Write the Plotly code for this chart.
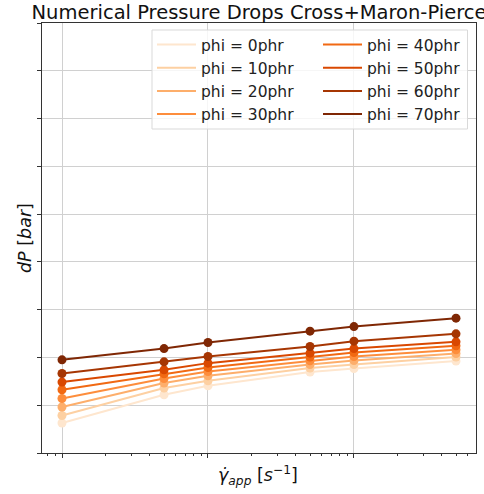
import plotly.graph_objects as go

# Apparent shear rate [1/s] and pressure drop for each filler loading
shear_rate = [1, 5, 10, 50, 100, 500]
phi_labels = ["phi = 0phr", "phi = 10phr", "phi = 20phr", "phi = 30phr",
              "phi = 40phr", "phi = 50phr", "phi = 60phr", "phi = 70phr"]
dp_phi0 = [0.627, 1.219, 1.407, 1.693, 1.768, 1.923]
dp_phi10 = [0.786, 1.359, 1.511, 1.777, 1.852, 2.007]
dp_phi20 = [0.962, 1.463, 1.616, 1.852, 1.936, 2.082]
dp_phi30 = [1.141, 1.560, 1.706, 1.929, 2.019, 2.159]
dp_phi40 = [1.323, 1.658, 1.789, 2.007, 2.103, 2.243]
dp_phi50 = [1.484, 1.741, 1.881, 2.090, 2.186, 2.326]
dp_phi60 = [1.664, 1.908, 2.019, 2.228, 2.341, 2.494]
dp_phi70 = [1.950, 2.186, 2.312, 2.550, 2.646, 2.822]
dp_series = [dp_phi0, dp_phi10, dp_phi20, dp_phi30,
             dp_phi40, dp_phi50, dp_phi60, dp_phi70]

# Oranges palette, light to dark
colors = ["#fee6ce", "#fdd0a2", "#fdae6b", "#fd8d3c",
          "#f16913", "#d94801", "#a63603", "#7f2704"]

W, H = 484, 494
ML, MR, MT, MB = 42, 8, 23, 41
pw, ph = W - ML - MR, H - MT - MB


def px_x(p):
    return (p - ML) / pw


def px_y(p):
    return (H - MB - p) / ph


fig = go.Figure()
for i, (lab, dp, c) in enumerate(zip(phi_labels, dp_series, colors)):
    leg = "legend" if i < 4 else "legend2"
    fig.add_trace(go.Scatter(
        x=shear_rate, y=dp, mode="lines", name=lab,
        line=dict(color=c, width=2), legend=leg, legendgroup=lab,
    ))
    fig.add_trace(go.Scatter(
        x=shear_rate, y=dp, mode="markers", showlegend=False,
        marker=dict(color=c, size=9, line=dict(width=0)), legendgroup=lab,
    ))

axis_common = dict(
    showline=True, linecolor="#333333", linewidth=1, mirror=True,
    ticks="outside", ticklen=4, tickcolor="#333333", tickwidth=1,
    showticklabels=False, showgrid=True, gridcolor="#d0d0d0", gridwidth=1,
    zeroline=False,
)

fig.update_xaxes(
    type="log", range=[-0.137, 2.836], dtick=1,
    minor=dict(ticks="outside", ticklen=2, dtick="D1", tickcolor="#333333",
               showgrid=False),
    **axis_common,
)
fig.update_yaxes(range=[0, 9], dtick=1, **axis_common)

legend_font = dict(family="DejaVu Sans", size=15.5, color="#222222")
legend_common = dict(
    font=legend_font, bgcolor="rgba(0,0,0,0)", borderwidth=0,
    xanchor="left", yanchor="top", tracegroupgap=0, traceorder="grouped",
    itemwidth=39,
)

fig.update_layout(
    width=W, height=H,
    margin=dict(l=ML, r=MR, t=MT, b=MB),
    paper_bgcolor="white", plot_bgcolor="white",
    font=dict(family="DejaVu Sans", color="#111111"),
    title=dict(
        text="Numerical Pressure Drops Cross+Maron-Pierce",
        x=0.5, xref="paper", xanchor="center",
        y=1 - 12.5 / H, yref="container", yanchor="middle",
        font=dict(family="DejaVu Sans", size=19.5, color="#111111"),
    ),
    legend=dict(x=px_x(152), y=px_y(28), **legend_common),
    legend2=dict(x=px_x(318), y=px_y(28), **legend_common),
    shapes=[dict(
        type="rect", xref="paper", yref="paper",
        x0=px_x(152), x1=px_x(467.5), y0=px_y(129), y1=px_y(30),
        line=dict(color="#d9d9d9", width=1),
        fillcolor="rgba(255,255,255,0.8)", layer="above",
    )],
    annotations=[
        dict(text="<i>γ\u0307</i><sub><i>app</i></sub> [<i>s</i><sup>\u22121</sup>]",
             xref="paper", yref="paper", x=px_x(258), y=px_y(475),
             xanchor="center", yanchor="middle", showarrow=False,
             font=dict(family="DejaVu Sans", size=17.5, color="#111111")),
        dict(text="<i>dP</i> [<i>bar</i>]",
             xref="paper", yref="paper", x=px_x(25), y=px_y(238),
             xanchor="center", yanchor="middle", textangle=-90, showarrow=False,
             font=dict(family="DejaVu Sans", size=17.5, color="#111111")),
    ],
)

fig.write_html("out.html")
